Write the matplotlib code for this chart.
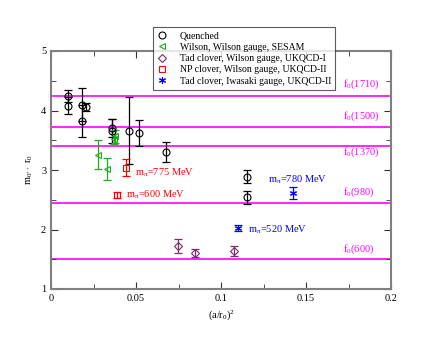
import numpy as np
import matplotlib
matplotlib.use("Agg")
import matplotlib.pyplot as plt
from matplotlib.ticker import MultipleLocator, FuncFormatter

plt.rcParams['font.family'] = ['Liberation Serif', 'DejaVu Serif']
plt.rcParams['mathtext.fontset'] = 'custom'
plt.rcParams['mathtext.rm'] = 'Liberation Serif'
plt.rcParams['mathtext.it'] = 'Liberation Serif'

# quenched data
q_x = [0.0102, 0.0102, 0.0184, 0.0184, 0.0206, 0.036, 0.036, 0.046, 0.0516, 0.0675, 0.1155, 0.1155]
q_y = [4.25, 4.08, 4.10, 3.82, 4.06, 3.70, 3.65, 3.66, 3.62, 3.30, 2.89, 2.54]
q_e = [0.10, 0.14, 0.28, 0.27, 0.06, 0.15, 0.20, 0.56, 0.22, 0.17, 0.11, 0.11]

# Wilson, Wilson gauge, SESAM
w_x = [0.0275, 0.0331, 0.0378, 0.0372]
w_y = [3.26, 3.02, 3.57, 3.52]
w_e = [0.25, 0.18, 0.11, 0.08]

# Tad clover, Wilson gauge, UKQCD-I
t1_x = [0.0749, 0.0847, 0.1078]
t1_y = [1.72, 1.60, 1.64]
t1_e = [0.12, 0.07, 0.09]

# NP clover, Wilson gauge, UKQCD-II
np_x = [0.0441, 0.039]
np_y = [3.04, 2.58]
np_e = [0.14, 0.05]

# Tad clover, Iwasaki gauge, UKQCD-II
t2_x = [0.142, 0.1098]
t2_y = [2.61, 2.02]
t2_e = [0.10, 0.05]

# experimental f0 states
f0_names = ['1710', '1500', '1370', '980', '600']
f0_vals = [4.24, 3.72, 3.40, 2.44, 1.50]
f0_lab_y = [4.44, 3.90, 3.30, 2.63, 1.67]

fig = plt.figure(figsize=(4.4, 3.4), dpi=100)
ax = fig.add_axes([0.116, 0.15, 0.773, 0.70])

for v in f0_vals:
    ax.axhline(v, color='#ff00ff', lw=1.2, zorder=1)
for n, ly in zip(f0_names, f0_lab_y):
    ax.text(0.1715, ly, r'f$_0$(' + n + ')', color='#ff00ff', fontsize=7.5, va='center')

series = [
    (q_x, q_y, q_e, 'black', 'o', 'Quenched'),
    (w_x, w_y, w_e, '#22aa22', '<', 'Wilson, Wilson gauge, SESAM'),
    (t1_x, t1_y, t1_e, '#7f2a6a', 'D', 'Tad clover, Wilson gauge, UKQCD-I'),
    (np_x, np_y, np_e, 'red', 's', 'NP clover, Wilson gauge, UKQCD-II'),
    (t2_x, t2_y, t2_e, 'blue', (6, 2, 0), 'Tad clover, Iwasaki gauge, UKQCD-II'),
]
handles = []
for x, y, e, c, m, lab in series:
    ax.errorbar(x, y, yerr=e, fmt='none', ecolor=c, elinewidth=0.9, capsize=3, capthick=0.9, zorder=3)
    ms = 4 if m == 'D' else 5
    h, = ax.plot(x, y, ls='none', marker=m, ms=ms, mfc='none', mec=c, mew=0.8, label=lab, zorder=4)
    handles.append(h)

ax.text(0.0492, 2.96, r'm$_\pi$=775 MeV', color='red', fontsize=7.5, va='center')
ax.text(0.044, 2.59, r'm$_\pi$=600 MeV', color='red', fontsize=7.5, va='center')
ax.text(0.1275, 2.83, r'm$_\pi$=780 MeV', color='blue', fontsize=7.5, va='center')
ax.text(0.116, 2.0, r'm$_\pi$=520 MeV', color='blue', fontsize=7.5, va='center')

ax.set_xlim(0, 0.2)
ax.set_ylim(1, 5)
ax.xaxis.set_major_locator(MultipleLocator(0.05))
ax.xaxis.set_minor_locator(MultipleLocator(0.025))
ax.yaxis.set_major_locator(MultipleLocator(1))
ax.yaxis.set_minor_locator(MultipleLocator(0.5))
ax.xaxis.set_major_formatter(FuncFormatter(lambda v, p: '%g' % round(v, 3)))
ax.tick_params(which='both', direction='in', top=True, right=True, labelsize=7.5, color='#333333')
ax.tick_params(which='major', length=5)
ax.tick_params(which='minor', length=3.5)
for s in ax.spines.values():
    s.set_color('#808080')
    s.set_linewidth(1.5)
ax.set_xlabel(r'(a/r$_0$)$^2$', fontsize=7.5, labelpad=4)
ax.set_ylabel(r'm$_{0^{++}}$ r$_0$', fontsize=7.5, labelpad=4)

leg = fig.legend(handles=handles, loc='upper left', bbox_to_anchor=(0.347, 0.92),
                 fontsize=7, frameon=True, fancybox=False, borderaxespad=0,
                 handlelength=1.2, handletextpad=1.2, labelspacing=0.25, borderpad=0.4)
leg.get_frame().set_edgecolor('#333333')
leg.get_frame().set_linewidth(0.8)

fig.savefig('out.png', dpi=100)
